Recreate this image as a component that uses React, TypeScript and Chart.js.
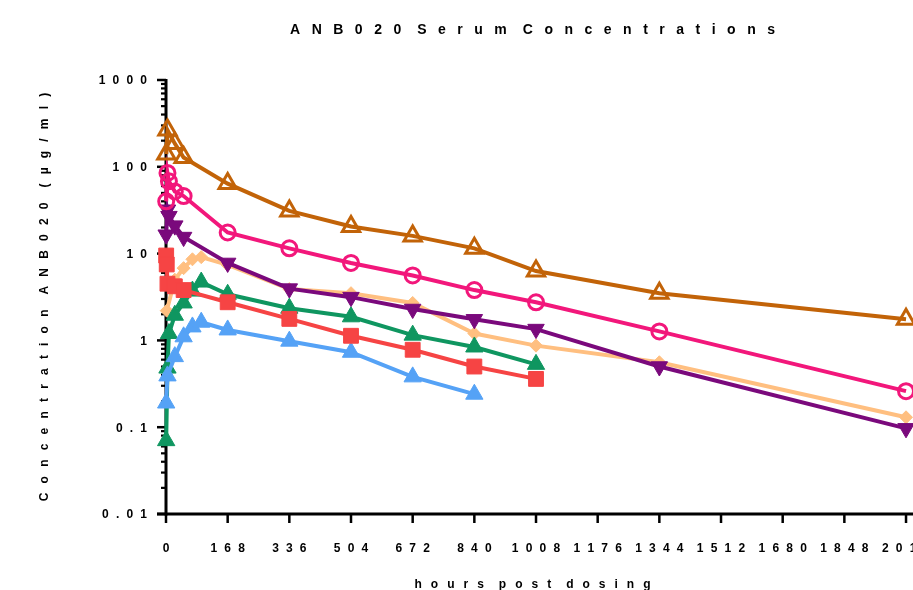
import React, { useEffect, useRef } from 'react';
import { Chart, registerables } from 'chart.js';

Chart.register(...registerables);

// ---------- text ----------
const TITLE = 'ANB020 Serum Concentrations';
const X_TITLE = 'hours post dosing';
const Y_TITLE = 'Concentration ANB020 (µg/ml)';

// ---------- axes ----------
const X_TICKS = [0, 168, 336, 504, 672, 840, 1008, 1176, 1344, 1512, 1680, 1848, 2016];
const X_MAX = 2035;
const Y_TICKS = [0.01, 0.1, 1, 10, 100, 1000];
const Y_TICK_LABELS = ['0.01', '0.1', '1', '10', '100', '1000'];
const Y_MINOR = [
  0.02, 0.03, 0.04, 0.05, 0.06, 0.07, 0.08, 0.09,
  0.2, 0.3, 0.4, 0.5, 0.6, 0.7, 0.8, 0.9,
  2, 3, 4, 5, 6, 7, 8, 9,
  20, 30, 40, 50, 60, 70, 80, 90,
  200, 300, 400, 500, 600, 700, 800, 900,
];

// ---------- data (hours, µg/ml) ----------
const orangeT = [1, 4, 24, 48, 168, 336, 504, 672, 840, 1008, 1344, 2016];
const orangeV = [140, 265, 185, 128, 64, 31, 20.5, 16, 11.5, 6.3, 3.5, 1.75];

const pinkT = [0.5, 4, 8, 24, 48, 168, 336, 504, 672, 840, 1008, 1344, 2016];
const pinkV = [40, 85, 68, 52, 46, 17.5, 11.5, 7.8, 5.6, 3.8, 2.75, 1.27, 0.26];

const purpleT = [0.5, 4, 8, 24, 48, 168, 336, 504, 672, 840, 1008, 1344, 2016];
const purpleV = [16.5, 32, 27, 21, 15.5, 7.8, 3.95, 3.15, 2.3, 1.75, 1.35, 0.5, 0.097];

const tanT = [2, 24, 48, 72, 96, 168, 336, 504, 672, 840, 1008, 1344, 2016];
const tanV = [2.2, 5.0, 6.8, 8.6, 9.1, 7.4, 3.9, 3.5, 2.7, 1.2, 0.87, 0.56, 0.13];

const greenT = [0.5, 4, 8, 24, 48, 72, 96, 168, 336, 504, 672, 840, 1008];
const greenV = [0.07, 0.48, 1.2, 1.95, 2.7, 3.7, 4.7, 3.4, 2.35, 1.87, 1.15, 0.84, 0.53];

const redT = [0.5, 2, 4, 24, 48, 168, 336, 504, 672, 840, 1008];
const redV = [9.5, 7.5, 4.5, 4.2, 3.8, 2.75, 1.77, 1.13, 0.78, 0.5, 0.36];

const blueT = [0.5, 4, 24, 48, 72, 96, 168, 336, 504, 672, 840];
const blueV = [0.19, 0.39, 0.65, 1.1, 1.43, 1.62, 1.32, 0.98, 0.73, 0.38, 0.24];

const FONT = "'Liberation Sans', Arial, sans-serif";

function pts(t: number[], v: number[]) {
  return t.map((x, i) => ({ x, y: v[i] }));
}

function spacedWidth(ctx: CanvasRenderingContext2D, text: string, g: number, w: number) {
  const words = text.split(' ');
  let total = 0;
  words.forEach((word, wi) => {
    const chars = Array.from(word);
    chars.forEach((c, ci) => {
      total += ctx.measureText(c).width;
      if (ci < chars.length - 1) total += g;
    });
    if (wi < words.length - 1) total += w;
  });
  return total;
}

function drawSpaced(ctx: CanvasRenderingContext2D, text: string, x: number, y: number, g: number, w: number, align: 'left' | 'center' | 'right') {
  const total = spacedWidth(ctx, text, g, w);
  let cx = align === 'left' ? x : align === 'center' ? x - total / 2 : x - total;
  ctx.textAlign = 'left';
  const words = text.split(' ');
  words.forEach((word, wi) => {
    const chars = Array.from(word);
    chars.forEach((c, ci) => {
      ctx.fillText(c, cx, y);
      cx += ctx.measureText(c).width;
      if (ci < chars.length - 1) cx += g;
    });
    if (wi < words.length - 1) cx += w;
  });
}

const axesPlugin = {
  id: 'prismAxes',
  beforeDatasetsDraw(chart: any) {
    const ctx: CanvasRenderingContext2D = chart.ctx;
    const xs = chart.scales.x;
    const ys = chart.scales.y;
    const x0 = xs.getPixelForValue(0);
    const yTop = ys.getPixelForValue(1000);
    const yBot = ys.getPixelForValue(0.01);
    ctx.save();
    ctx.strokeStyle = '#000';
    ctx.lineCap = 'butt';
    // y axis line
    ctx.lineWidth = 3;
    ctx.beginPath();
    ctx.moveTo(x0, yTop - 1);
    ctx.lineTo(x0, yBot + 1.5);
    ctx.stroke();
    // x axis line
    ctx.beginPath();
    ctx.moveTo(x0 - 9, yBot);
    ctx.lineTo(chart.width, yBot);
    ctx.stroke();
    // y major ticks
    ctx.lineWidth = 2.5;
    Y_TICKS.forEach((v) => {
      const y = ys.getPixelForValue(v);
      ctx.beginPath();
      ctx.moveTo(x0 - 9, y);
      ctx.lineTo(x0, y);
      ctx.stroke();
    });
    // y minor ticks
    ctx.lineWidth = 2.2;
    Y_MINOR.forEach((v) => {
      const y = ys.getPixelForValue(v);
      ctx.beginPath();
      ctx.moveTo(x0 - 5, y);
      ctx.lineTo(x0, y);
      ctx.stroke();
    });
    // x ticks
    ctx.lineWidth = 2.5;
    X_TICKS.forEach((v) => {
      const x = xs.getPixelForValue(v);
      ctx.beginPath();
      ctx.moveTo(x, yBot);
      ctx.lineTo(x, yBot + 9);
      ctx.stroke();
    });

    // tick labels
    ctx.fillStyle = '#000';
    ctx.textBaseline = 'alphabetic';
    ctx.font = `bold 12px ${FONT}`;
    Y_TICKS.forEach((v, i) => {
      const y = ys.getPixelForValue(v);
      drawSpaced(ctx, Y_TICK_LABELS[i], x0 - 19, y + 4.3, 7.2, 8, 'right');
    });
    X_TICKS.forEach((v) => {
      const x = xs.getPixelForValue(v);
      drawSpaced(ctx, String(v), x, yBot + 38, 7.2, 8, 'center');
    });

    // titles
    const midX = (chart.chartArea.left + chart.chartArea.right) / 2 - 7;
    ctx.font = `bold 14px ${FONT}`;
    drawSpaced(ctx, TITLE, midX, 34, 11.5, 16, 'center');

    ctx.font = `bold 12px ${FONT}`;
    drawSpaced(ctx, X_TITLE, midX, 588, 9, 15, 'center');

    ctx.save();
    ctx.translate(48, (yTop + yBot) / 2);
    ctx.rotate(-Math.PI / 2);
    drawSpaced(ctx, Y_TITLE, 0, 0, 9.2, 15, 'center');
    ctx.restore();

    ctx.restore();
  },
};

type Series = {
  t: number[];
  v: number[];
  color: string;
  style: string;
  radius: number;
  open?: boolean;
  rotation?: number;
};

const SERIES: Series[] = [
  { t: orangeT, v: orangeV, color: '#C26308', style: 'triangle', radius: 10, open: true },
  { t: pinkT, v: pinkV, color: '#F2177B', style: 'circle', radius: 7.5, open: true },
  { t: redT, v: redV, color: '#F64444', style: 'rect', radius: 10.5 },
  { t: blueT, v: blueV, color: '#55A2F6', style: 'triangle', radius: 10 },
  { t: greenT, v: greenV, color: '#0F9660', style: 'triangle', radius: 10 },
  { t: purpleT, v: purpleV, color: '#7A097C', style: 'triangle', radius: 9.5, rotation: 180 },
  { t: tanT, v: tanV, color: '#FFBF80', style: 'rectRot', radius: 6.5 },
];

export default function App() {
  const ref = useRef<HTMLCanvasElement | null>(null);

  useEffect(() => {
    const canvas = ref.current;
    if (!canvas) return;
    const chart = new Chart(canvas, {
      type: 'line',
      data: {
        datasets: SERIES.map((s) => ({
          data: pts(s.t, s.v),
          borderColor: s.color,
          backgroundColor: s.open ? 'rgba(0,0,0,0)' : s.color,
          pointBorderColor: s.color,
          pointBackgroundColor: s.open ? 'rgba(0,0,0,0)' : s.color,
          pointStyle: s.style as any,
          pointRadius: s.radius,
          pointRotation: s.rotation || 0,
          pointBorderWidth: s.open ? 3 : 1,
          borderWidth: 4,
          tension: 0,
          fill: false,
          clip: false as any,
        })),
      },
      options: {
        animation: false,
        responsive: false,
        devicePixelRatio: 1,
        layout: { autoPadding: false, padding: { left: 166, top: 80, right: 0, bottom: 76 } },
        plugins: {
          legend: { display: false },
          tooltip: { enabled: false },
          title: { display: false },
        },
        scales: {
          x: { type: 'linear', display: false, min: 0, max: X_MAX },
          y: { type: 'logarithmic', display: false, min: 0.01, max: 1000 },
        },
      },
      plugins: [axesPlugin],
    });
    return () => chart.destroy();
  }, []);

  return (
    <canvas
      ref={ref}
      width={913}
      height={590}
      style={{ position: 'fixed', left: 0, top: 0, width: 913, height: 590, background: '#fff' }}
    />
  );
}
